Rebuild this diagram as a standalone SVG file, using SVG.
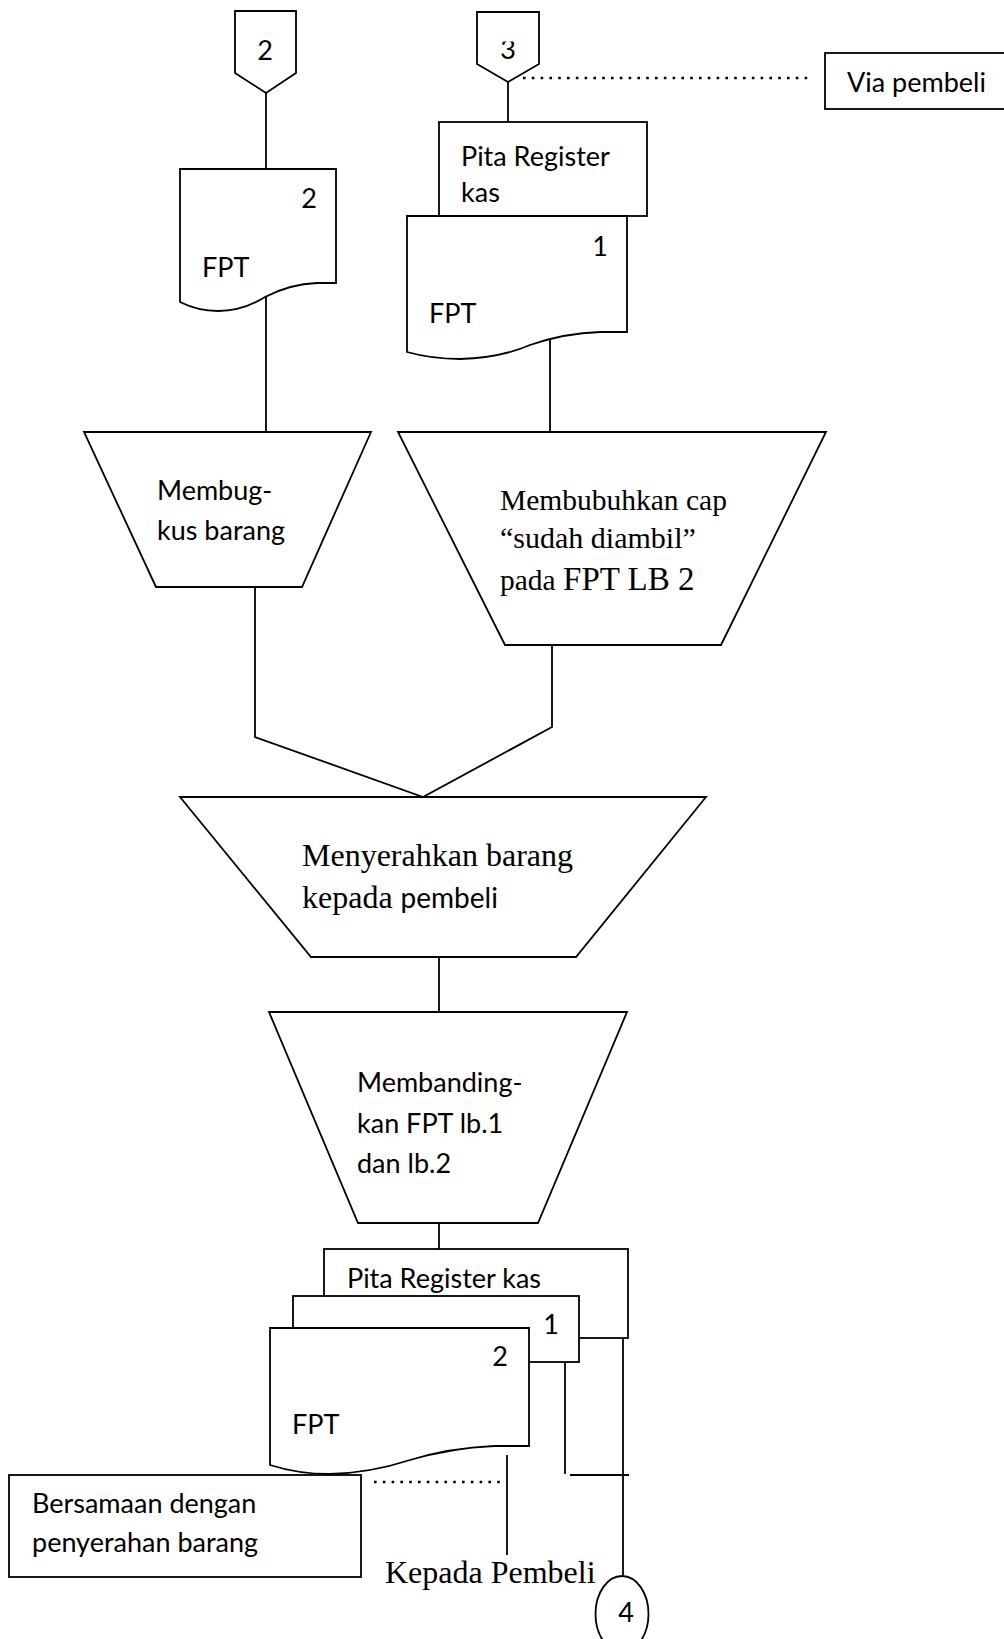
<svg xmlns="http://www.w3.org/2000/svg" width="1004" height="1639" viewBox="0 0 1004 1639">
<style>
.s{fill:#fff;stroke:#000;stroke-width:1.8;stroke-linejoin:miter}
.l{fill:none;stroke:#000;stroke-width:1.8}
.d{fill:none;stroke:#000;stroke-width:2.6;stroke-dasharray:2.6 6.2}
.c{font-family:Lato,"Open Sans",sans-serif;font-size:27px;fill:#000}
.t{font-family:"Liberation Serif","Times New Roman",serif;font-size:29.5px;fill:#000}
.m{text-anchor:middle}
</style>
<defs>
<clipPath id="clip3"><rect x="470" y="41.5" width="80" height="30"/></clipPath>
</defs>
<rect width="1004" height="1639" fill="#fff"/>

<g id="connectors">
<line class="l" x1="266" y1="93" x2="266" y2="168"/>
<line class="l" x1="266" y1="287" x2="266" y2="432"/>
<line class="l" x1="508" y1="82" x2="508" y2="122"/>
<line class="l" x1="550" y1="339" x2="550" y2="432"/>
<path class="l" d="M255,587 V737 L423,797 L552,727 V645"/>
<line class="l" x1="439" y1="957" x2="439" y2="1012"/>
<line class="l" x1="439" y1="1216" x2="439" y2="1249"/>
<line class="l" x1="623" y1="1338" x2="623" y2="1576"/>
<line class="l" x1="565" y1="1362" x2="565" y2="1474"/>
<line class="l" x1="570" y1="1475" x2="629" y2="1475"/>
<line class="l" x1="507" y1="1455" x2="507" y2="1555"/>
<line class="d" x1="523" y1="78" x2="813" y2="78"/>
<line class="d" x1="374" y1="1482" x2="506" y2="1482"/>
</g>

<g id="off-page-2">
<polygon class="s" points="235,11 296,11 296,73 266,93 235,73"/>
<text class="c m" x="265" y="60">2</text>
</g>

<g id="off-page-3">
<polygon class="s" points="477,12 539,12 539,64 508,82 477,64"/>
<text class="c m" x="508" y="58.5" clip-path="url(#clip3)">3</text>
</g>

<g id="via-pembeli">
<rect class="s" x="825" y="53" width="190" height="56"/>
<text class="c" x="847" y="92">Via pembeli</text>
</g>

<g id="fpt-2">
<path class="s" d="M180,169 H336 V283 H317 Q290,284 265,297 Q243,311 218,311 Q198,311 180,302 Z"/>
<text class="c m" x="309" y="208">2</text>
<text class="c" x="202" y="277">FPT</text>
</g>

<g id="pita-register-kas-top">
<rect class="s" x="439" y="122" width="208" height="94"/>
<text class="c" x="461" y="166">Pita Register</text>
<text class="c" x="461" y="202">kas</text>
</g>

<g id="fpt-1">
<path class="s" d="M407,216 H627 V332 H600 Q565,333 530,345 Q500,358 460,359 Q432,359 407,352 Z"/>
<text class="c m" x="600" y="256">1</text>
<text class="c" x="429" y="323">FPT</text>
</g>

<g id="membungkus">
<polygon class="s" points="84,432 371,432 302,587 156,587"/>
<text class="c" x="157" y="500">Membug-</text>
<text class="c" x="157" y="540">kus barang</text>
</g>

<g id="membubuhkan">
<polygon class="s" points="398,432 826,432 721,645 505,645"/>
<text class="t" x="500" y="510">Membubuhkan cap</text>
<text class="t" x="500" y="548" style="font-size:30px">“sudah diambil”</text>
<text class="t" x="500" y="590">pada <tspan style="font-size:33px">FPT LB 2</tspan></text>
</g>

<g id="menyerahkan">
<polygon class="s" points="180,797 706,797 576,957 311,957"/>
<text class="t" x="302" y="866" style="font-size:32px">Menyerahkan barang</text>
<text class="t" x="302" y="908" style="font-size:32px">kepada <tspan style="font-family:Lato,'Open Sans',sans-serif;font-size:28px">pembeli</tspan></text>
</g>

<g id="membandingkan">
<polygon class="s" points="269,1012 627,1012 538,1223 358,1223"/>
<text class="c" x="357" y="1092">Membanding-</text>
<text class="c" x="357" y="1133">kan FPT lb.1</text>
<text class="c" x="357" y="1173">dan lb.2</text>
</g>

<g id="pita-register-kas-bottom">
<rect class="s" x="324" y="1249" width="304" height="89"/>
<text class="c" x="347" y="1288">Pita Register kas</text>
</g>

<g id="fpt-1-bottom">
<rect class="s" x="293" y="1296" width="286" height="66"/>
<text class="c m" x="551" y="1334">1</text>
</g>

<g id="fpt-2-bottom">
<path class="s" d="M270,1328 H529 V1446 H494 Q450,1448 410,1460 Q370,1473 330,1474 Q298,1474 270,1465 Z"/>
<text class="c m" x="500" y="1366">2</text>
<text class="c" x="292" y="1434">FPT</text>
</g>

<g id="bersamaan">
<rect class="s" x="9" y="1475" width="352" height="102"/>
<text class="c" x="32" y="1513">Bersamaan dengan</text>
<text class="c" x="32" y="1552">penyerahan barang</text>
</g>

<g id="kepada-pembeli">
<text class="t" x="385" y="1583" style="font-size:32px">Kepada Pembeli</text>
</g>

<g id="off-page-4">
<ellipse class="s" cx="622" cy="1614" rx="26.5" ry="38"/>
<text class="c m" x="626" y="1622">4</text>
</g>
</svg>
